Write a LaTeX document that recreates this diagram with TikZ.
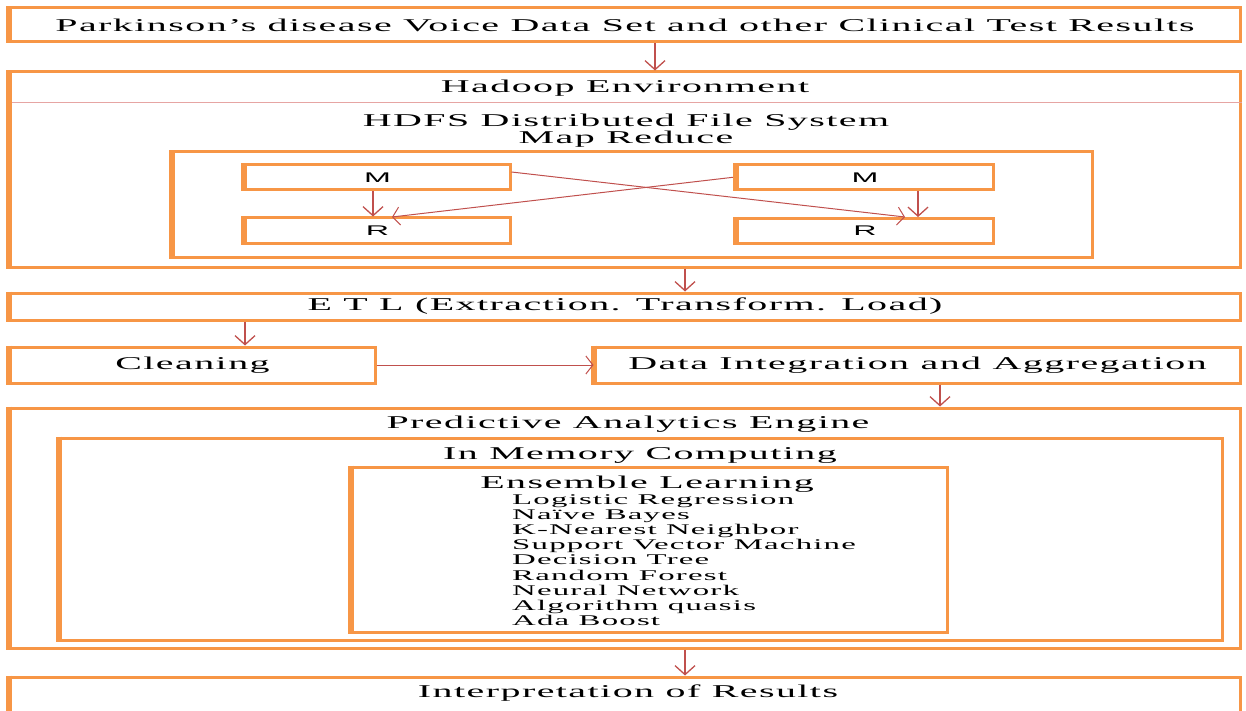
\documentclass[tikz,border=0pt]{standalone}
\usepackage{fontspec}
\setmainfont{Liberation Serif}[FakeStretch=2.22,LetterSpace=8]
\newfontfamily\mrfont{Liberation Sans}[FakeStretch=2.3]
\usetikzlibrary{arrows.meta}
\definecolor{boxorange}{HTML}{F79646}
\definecolor{arrowred}{HTML}{C0504D}
\definecolor{rulepink}{HTML}{E6A5A3}
\tikzset{
	box/.style={draw=boxorange, line width=3pt, inner sep=0pt},
	edge/.style={draw=boxorange, line width=6pt},
	arr/.style={draw=arrowred, line width=1.3pt, -{Straight Barb[length=9pt,width=20pt]}},
	thinarr/.style={draw=arrowred, line width=1pt, -{Straight Barb[length=7pt,width=18pt]}},
	big/.style={font=\fontsize{18}{20}\selectfont},
	small/.style={font=\fontsize{14.8}{15.2}\selectfont},
	mr/.style={font=\mrfont\fontsize{14}{14}\selectfont}
}
\begin{document}
\begin{tikzpicture}[x=1pt,y=-1pt]
		\useasboundingbox (0,0) rectangle (1246,711);
		
		% input
		\node[box, minimum width=1230pt, minimum height=34pt, big] (src) at (625,25) {Parkinson's disease Voice Data Set and other Clinical Test Results};
		
		% hadoop
		\node[box, minimum width=1230pt, minimum height=195pt] (hadoop) at (625,169.5) {};
		\node[big] (hadooptitle) at (625,88) {Hadoop Environment};
		\draw[rulepink, line width=1pt] (hadoop.west |- 0,103) -- (hadoop.east |- 0,103);
		\node[big, align=center] (hdfs) at (626,131) {HDFS Distributed File System\\[-3pt]Map Reduce};
		\node[box, minimum width=919pt, minimum height=105pt] (mapred) at (632.5,204.5) {};
		\node[box, minimum width=265pt, minimum height=25pt, mr] (lm) at (377.5,177.5) {M};
		\node[box, minimum width=265pt, minimum height=25pt, mr] (lr) at (377.5,230.5) {R};
		\node[box, minimum width=256pt, minimum height=25pt, mr] (rm) at (865,177.5) {M};
		\node[box, minimum width=256pt, minimum height=25pt, mr] (rr) at (865,231) {R};
		\draw[arr] (lm.south -| 373,0) -- (lr.north -| 373,0);
		\draw[arr] (rm.south -| 918,0) -- (rr.north -| 918,0);
		\coordinate (lrin) at (392,217);
		\coordinate (rrin) at (905,217);
		\draw[thinarr] (lm.east |- 0,172) -- (rrin);
		\draw[thinarr] (rm.west |- 0,177) -- (lrin);
		
		% etl
		\node[box, minimum width=1230pt, minimum height=27pt, big] (etl) at (625,306.5) {E T L (Extraction. Transform. Load)};
		\node[box, minimum width=365pt, minimum height=36pt, big] (clean) at (192.5,365) {Cleaning};
		\node[box, minimum width=645pt, minimum height=36pt, big] (integ) at (917.5,365) {Data Integration and Aggregation};
		
		% analytics
		\node[box, minimum width=1230pt, minimum height=240pt] (engine) at (625,528) {};
		\node[big] (enginetitle) at (628,424) {Predictive Analytics Engine};
		\node[box, minimum width=1162pt, minimum height=202pt] (memory) at (641,539) {};
		\node[big] (memorytitle) at (640,455) {In Memory Computing};
		\node[box, minimum width=595pt, minimum height=165pt] (ensemble) at (649.5,549.5) {};
		\node[big] (ensembletitle) at (647,484) {Ensemble Learning};
		\node[small, align=left, anchor=north west, inner sep=0pt] (algos) at (512,494) {Logistic Regression\\Naïve Bayes\\K-Nearest Neighbor\\Support Vector Machine\\Decision Tree\\Random Forest\\Neural Network\\Algorithm quasis\\Ada Boost};
		
		% output
		\node[box, minimum width=1230pt, minimum height=44pt] (result) at (625,699) {};
		\node[big] (resulttitle) at (628,693) {Interpretation of Results};
		
		\foreach \b in {src,hadoop,mapred,lm,lr,rm,rr,etl,clean,integ,engine,memory,ensemble,result}
			\draw[edge] (\b.north west) -- (\b.south west);
		
		\draw[arr] (src.south -| 655,0) -- (hadoop.north -| 655,0);
		\draw[arr] (hadoop.south -| 685,0) -- (etl.north -| 685,0);
		\draw[arr] (etl.south -| 245,0) -- (clean.north -| 245,0);
		\draw[thinarr] (clean.east) -- (integ.west);
		\draw[arr] (integ.south -| 940,0) -- (engine.north -| 940,0);
		\draw[arr] (engine.south -| 685,0) -- (result.north -| 685,0);
	\end{tikzpicture}
\end{document}
